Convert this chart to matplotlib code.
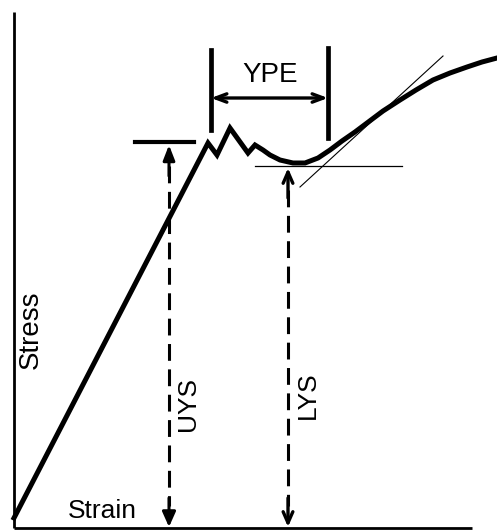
import numpy as np
import matplotlib.pyplot as plt

plt.rcParams['font.family'] = ['Liberation Sans', 'DejaVu Sans']

# stress-strain curve (schematic units)
strain = [0, 194, 203, 216, 234, 241, 249, 256, 266, 279, 291, 304, 316, 328,
          341, 353, 369, 386, 402, 419, 436, 453, 468, 483]
stress = [10, 385, 373, 400, 375, 383, 378, 373, 368, 365, 365, 370, 378, 387,
          396, 405, 417, 428, 438, 448, 455, 461, 466, 470]

uys_strain, uys_stress = 155, 386
lys_strain, lys_stress = 274, 362
ype_start, ype_end = 197, 314

# construction lines
tangent_x = [286, 429]
tangent_y = [341, 472]
lys_line_x = [241, 388]
uys_bar_x = [121, 180]

fig = plt.figure(figsize=(4.97, 5.30), dpi=100)
ax = fig.add_axes([0, 0, 1, 1])
ax.set_xlim(-14, 483)
ax.set_ylim(-2, 528)
ax.axis('off')

# axes of the diagram
ax.plot([0, 0], [0, 516], color='black', lw=2.0, solid_capstyle='butt')
ax.plot([0, 458], [0, 0], color='black', lw=2.0, solid_capstyle='butt')

# curve
ax.plot(strain, stress, color='black', lw=3.6, solid_joinstyle='miter')

# thin tangent lines
ax.plot(tangent_x, tangent_y, color='black', lw=0.8)
ax.plot(lys_line_x, [lys_stress, lys_stress], color='black', lw=0.9)

# upper yield stress marker
ax.plot(uys_bar_x, [uys_stress, uys_stress], color='black', lw=3.0)
ax.plot([uys_strain, uys_strain], [362, 22], color='black', lw=2.2,
        linestyle=(0, (5.5, 2.8)))
ax.annotate('', xy=(uys_strain, uys_stress - 3), xytext=(uys_strain, 352),
            arrowprops=dict(arrowstyle='-|>,head_length=0.9,head_width=0.35',
                            color='black', lw=2.2, shrinkA=0, shrinkB=0))
ax.annotate('', xy=(uys_strain, 1), xytext=(uys_strain, 30),
            arrowprops=dict(arrowstyle='-|>,head_length=0.9,head_width=0.4',
                            color='black', lw=2.2, shrinkA=0, shrinkB=0))

# lower yield stress marker
ax.plot([lys_strain, lys_strain], [338, 22], color='black', lw=2.2,
        linestyle=(0, (5.5, 2.8)))
ax.annotate('', xy=(lys_strain, lys_stress - 2), xytext=(lys_strain, 330),
            arrowprops=dict(arrowstyle='->,head_length=0.8,head_width=0.35',
                            color='black', lw=2.4, shrinkA=0, shrinkB=0))
ax.annotate('', xy=(lys_strain, 1), xytext=(lys_strain, 30),
            arrowprops=dict(arrowstyle='->,head_length=0.8,head_width=0.35',
                            color='black', lw=2.4, shrinkA=0, shrinkB=0))

# yield point elongation
ax.plot([ype_start, ype_start], [398, 478], color='black', lw=3.4)
ax.plot([ype_end, ype_end], [390, 480], color='black', lw=3.4)
ax.annotate('', xy=(ype_start, 430), xytext=(ype_end, 430),
            arrowprops=dict(arrowstyle='<->,head_length=0.8,head_width=0.3',
                            color='black', lw=2.4, shrinkA=0, shrinkB=0))
ax.text(256, 453, 'YPE', fontsize=20, ha='center', va='center')

# labels
ax.text(17, 198, 'Stress', fontsize=20, rotation=90, ha='center', va='center')
ax.text(88, 17, 'Strain', fontsize=19, ha='center', va='center')
ax.text(174, 124, 'UYS', fontsize=19, rotation=90, ha='center', va='center')
ax.text(294, 133, 'LYS', fontsize=19, rotation=90, ha='center', va='center')

fig.savefig('out.png', dpi=100)
